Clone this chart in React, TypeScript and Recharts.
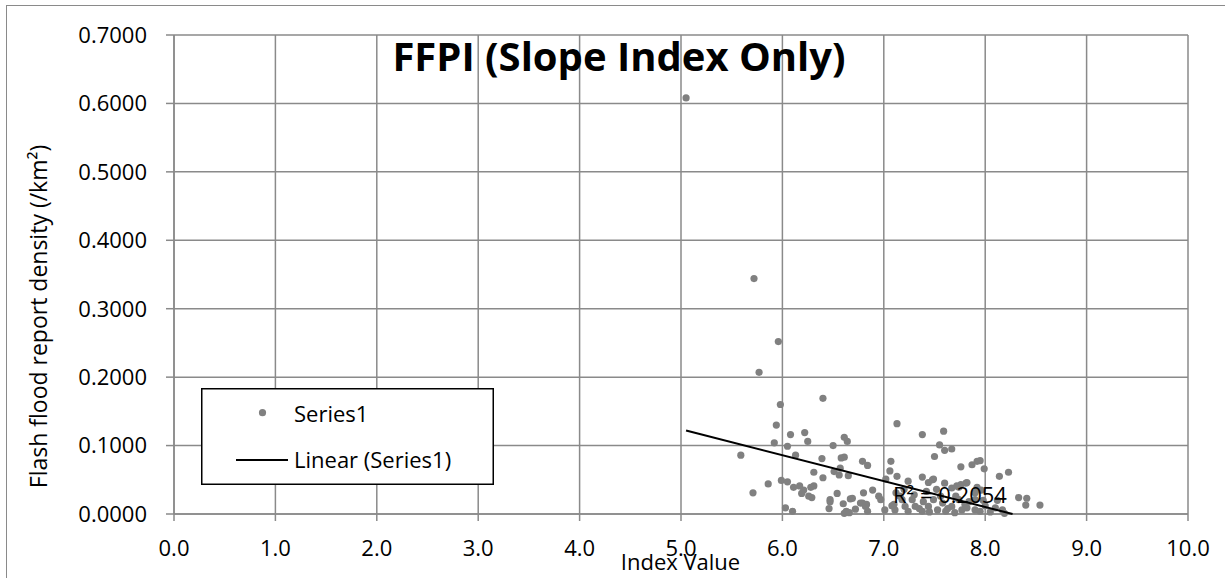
import { ScatterChart, Scatter, XAxis, YAxis, CartesianGrid, Legend } from "recharts";

// Index value (x) and flash flood report density (y)
const indexValues = [
  5.05, 5.72, 5.96, 5.77, 5.98, 6.40, 5.94, 5.59, 5.71, 5.86,
  5.92, 6.05, 6.08, 6.22, 6.25, 6.13, 6.61, 6.64, 6.50, 6.39,
  6.58, 6.61, 6.31, 6.40, 6.51, 6.56, 6.57, 6.65, 5.99, 6.05,
  6.11, 6.17, 6.21, 6.28, 6.31, 6.19, 6.26, 6.29, 6.54, 6.47,
  6.60, 6.03, 6.10, 6.46, 6.67, 6.63, 6.61, 6.69, 6.79, 6.84,
  7.13, 7.38, 7.59, 7.55, 7.60, 7.67, 7.50, 7.07, 7.06, 7.38,
  7.48, 7.44, 7.60, 7.76, 7.13, 7.02, 7.67, 7.74, 6.80, 6.95,
  6.97, 6.77, 6.82, 6.84, 7.01, 7.08, 7.11, 7.28, 7.31, 7.24,
  7.39, 7.44, 7.49, 7.53, 7.58, 7.61, 7.67, 7.74, 7.77, 7.38,
  7.21, 7.18, 7.87, 7.92, 7.95, 7.99, 8.14, 8.23, 8.33, 8.41,
  8.40, 8.54, 7.76, 7.82, 7.92, 7.90, 7.96, 7.71, 7.82, 7.90,
  7.95, 8.10, 8.17, 8.19, 7.90, 7.84, 7.10, 7.12, 7.16, 7.24,
  7.49, 7.72, 7.81, 6.47, 6.79, 6.83, 6.66, 7.30, 7.35, 7.45,
  7.56, 7.63, 7.70, 7.80, 8.00, 8.05, 7.98, 8.12, 7.20, 7.42,
  7.52, 6.72, 6.89,
];
const densities = [
  0.608, 0.344, 0.252, 0.207, 0.160, 0.169, 0.130, 0.086, 0.031, 0.044,
  0.104, 0.099, 0.116, 0.119, 0.106, 0.086, 0.112, 0.106, 0.100, 0.081,
  0.082, 0.083, 0.061, 0.053, 0.062, 0.057, 0.067, 0.056, 0.049, 0.047,
  0.039, 0.041, 0.035, 0.039, 0.041, 0.030, 0.026, 0.024, 0.030, 0.018,
  0.015, 0.009, 0.004, 0.008, 0.022, 0.004, 0.001, 0.023, 0.077, 0.071,
  0.132, 0.116, 0.121, 0.101, 0.093, 0.095, 0.084, 0.077, 0.063, 0.054,
  0.050, 0.046, 0.045, 0.069, 0.055, 0.051, 0.038, 0.039, 0.031, 0.026,
  0.021, 0.016, 0.011, 0.004, 0.006, 0.012, 0.006, 0.021, 0.011, 0.004,
  0.018, 0.011, 0.021, 0.006, 0.016, 0.004, 0.011, 0.021, 0.006, 0.004,
  0.011, 0.021, 0.072, 0.077, 0.078, 0.066, 0.055, 0.061, 0.024, 0.023,
  0.013, 0.013, 0.043, 0.046, 0.039, 0.031, 0.035, 0.026, 0.009, 0.006,
  0.004, 0.009, 0.006, 0.001, 0.021, 0.018, 0.014, 0.031, 0.026, 0.048,
  0.051, 0.041, 0.045, 0.021, 0.016, 0.014, 0.002, 0.028, 0.008, 0.003,
  0.026, 0.008, 0.002, 0.014, 0.012, 0.003, 0.020, 0.020, 0.036, 0.033,
  0.036, 0.007, 0.035,
];

// linear trendline ends (clipped at y = 0 like the original)
const trendX = [5.05, 8.27];
const trendY = [0.122, 0.0];

const xTicks = [0, 1, 2, 3, 4, 5, 6, 7, 8, 9, 10];
const yTicks = [0, 0.1, 0.2, 0.3, 0.4, 0.5, 0.6, 0.7];

const points = indexValues.map((x, i) => ({ x, y: densities[i] }));
const trend = trendX.map((x, i) => ({ x, y: trendY[i] }));

const FONT = '"Open Sans", sans-serif';
const GRID = "#8a8a8a";
const DOT = "#808080";

const Dot = (props: any) => <circle cx={props.cx} cy={props.cy} r={3.6} fill={DOT} />;

function LegendBox() {
  return (
    <svg width={293} height={97} style={{ display: "block", fontFamily: FONT }}>
      <rect x={0.75} y={0.75} width={291.5} height={95.5} fill="#fff" stroke="#000" strokeWidth={1.5} />
      <circle cx={61.5} cy={24.7} r={3.6} fill={DOT} />
      <text x={93} y={33.7} fontSize={22} fill="#000">Series1</text>
      <line x1={35} x2={87} y1={72} y2={72} stroke="#000" strokeWidth={2} />
      <text x={93} y={80.3} fontSize={22} fill="#000">Linear (Series1)</text>
    </svg>
  );
}

export default function App() {
  return (
    <div style={{ position: "absolute", left: 0, top: 0, width: 1225, height: 578, background: "#fff", overflow: "hidden" }}>
      <div style={{ position: "absolute", left: 6, top: 5, width: 1240, height: 600, borderLeft: `1.5px solid ${GRID}`, borderTop: `1.5px solid ${GRID}` }} />
      <ScatterChart width={1225} height={578} margin={{ top: 35, right: 37, bottom: 34, left: 0 }}>
        <CartesianGrid stroke={GRID} strokeWidth={1.5} />
        <XAxis
          type="number" dataKey="x" domain={[0, 10]} ticks={xTicks} interval={0}
          tickFormatter={(v: number) => v.toFixed(1)}
          height={30} tickSize={7} tickMargin={19}
          axisLine={{ stroke: GRID, strokeWidth: 1.5 }} tickLine={{ stroke: GRID, strokeWidth: 1.5 }}
          tick={{ fontSize: 22, fill: "#000", fontFamily: FONT }}
        />
        <YAxis
          type="number" dataKey="y" domain={[0, 0.7]} ticks={yTicks} interval={0}
          tickFormatter={(v: number) => v.toFixed(4)}
          width={174} tickSize={8} tickMargin={19}
          axisLine={{ stroke: GRID, strokeWidth: 1.5 }} tickLine={{ stroke: GRID, strokeWidth: 1.5 }}
          tick={{ fontSize: 22, fill: "#000", fontFamily: FONT }}
        />
        <Scatter name="Series1" data={points} shape={Dot} isAnimationActive={false} />
        <Scatter
          name="Linear (Series1)" data={trend} line={{ stroke: "#000", strokeWidth: 2 }}
          shape={() => <g />} isAnimationActive={false}
        />
        <Legend
          layout="horizontal" verticalAlign="middle" align="center"
          wrapperStyle={{ left: 201, top: 388, width: 293, height: 97 }}
          content={() => <LegendBox />}
        />
      </ScatterChart>
      <svg width={1225} height={578} style={{ position: "absolute", left: 0, top: 0, pointerEvents: "none", fontFamily: FONT }}>
        <text x={619} y={71} textAnchor="middle" fontSize={40} fontWeight={700} fill="#000">
          FFPI (Slope Index Only)
        </text>
        <text transform="translate(46.7,316.5) rotate(-90)" textAnchor="middle" fontSize={23} fill="#000">
          Flash flood report density (/km²)
        </text>
        <text x={680.5} y={570} textAnchor="middle" fontSize={22} fill="#000">Index Value</text>
        <text x={893} y={503} fontSize={22} fill="#000">R² = 0.2054</text>
      </svg>
    </div>
  );
}
